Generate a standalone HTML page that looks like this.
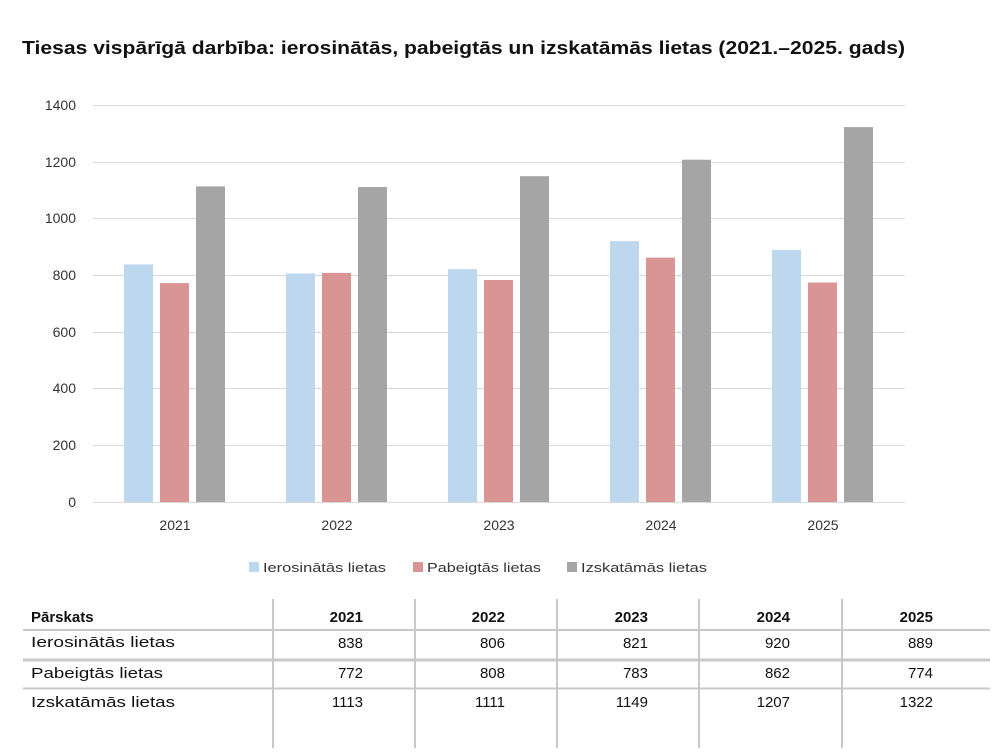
<!DOCTYPE html>
<html><head><meta charset="utf-8"><style>
body{margin:0;background:#fff;width:1000px;height:748px;overflow:hidden;font-family:"Liberation Sans","DejaVu Sans",sans-serif}
</style></head><body>
<svg width="1000" height="748" xmlns="http://www.w3.org/2000/svg" font-family="Liberation Sans, DejaVu Sans, sans-serif">
<text x="22" y="54" font-size="18" font-weight="bold" fill="#111" textLength="883" lengthAdjust="spacingAndGlyphs">Tiesas vispārīgā darbība: ierosinātās, pabeigtās un izskatāmās lietas (2021.–2025. gads)</text>
<g stroke="#d9d9d9" stroke-width="1">
<line x1="93" x2="905" y1="105.5" y2="105.5"/><line x1="93" x2="905" y1="162.5" y2="162.5"/><line x1="93" x2="905" y1="218.5" y2="218.5"/><line x1="93" x2="905" y1="275.5" y2="275.5"/><line x1="93" x2="905" y1="332.5" y2="332.5"/><line x1="93" x2="905" y1="388.5" y2="388.5"/><line x1="93" x2="905" y1="445.5" y2="445.5"/><line x1="93" x2="905" y1="502.5" y2="502.5"/>
</g>
<g font-size="14" fill="#333" text-anchor="end">
<text x="76" y="110">1400</text><text x="76" y="167">1200</text><text x="76" y="223">1000</text><text x="76" y="280">800</text><text x="76" y="337">600</text><text x="76" y="393">400</text><text x="76" y="450">200</text><text x="76" y="507">0</text>
</g>
<g>
<rect x="124" y="264.4" width="29" height="237.6" fill="#bdd7ee"/><rect x="160" y="283.1" width="29" height="218.9" fill="#d99594"/><rect x="196" y="186.4" width="29" height="315.6" fill="#a5a5a5"/>
<rect x="286" y="273.4" width="29" height="228.6" fill="#bdd7ee"/><rect x="322" y="272.9" width="29" height="229.1" fill="#d99594"/><rect x="358" y="187" width="29" height="315" fill="#a5a5a5"/>
<rect x="448" y="269.2" width="29" height="232.8" fill="#bdd7ee"/><rect x="484" y="280" width="29" height="222" fill="#d99594"/><rect x="520" y="176.2" width="29" height="325.8" fill="#a5a5a5"/>
<rect x="610" y="241.1" width="29" height="260.9" fill="#bdd7ee"/><rect x="646" y="257.6" width="29" height="244.4" fill="#d99594"/><rect x="682" y="159.7" width="29" height="342.3" fill="#a5a5a5"/>
<rect x="772" y="249.9" width="29" height="252.1" fill="#bdd7ee"/><rect x="808" y="282.5" width="29" height="219.5" fill="#d99594"/><rect x="844" y="127.1" width="29" height="374.9" fill="#a5a5a5"/>
</g>
<g font-size="14" fill="#333" text-anchor="middle">
<text x="175" y="530">2021</text><text x="337" y="530">2022</text><text x="499" y="530">2023</text><text x="661" y="530">2024</text><text x="823" y="530">2025</text>
</g>
<g font-size="13" fill="#333">
<rect x="249" y="562" width="10" height="10" fill="#bdd7ee"/><text x="263" y="572" textLength="123" lengthAdjust="spacingAndGlyphs">Ierosinātās lietas</text>
<rect x="413" y="562" width="10" height="10" fill="#d99594"/><text x="427" y="572" textLength="114" lengthAdjust="spacingAndGlyphs">Pabeigtās lietas</text>
<rect x="567" y="562" width="10" height="10" fill="#a5a5a5"/><text x="581" y="572" textLength="126" lengthAdjust="spacingAndGlyphs">Izskatāmās lietas</text>
</g>
<g stroke="#c8c8c8">
<line x1="273" x2="273" y1="599" y2="748" stroke-width="2"/><line x1="415" x2="415" y1="599" y2="748" stroke-width="2"/><line x1="557" x2="557" y1="599" y2="748" stroke-width="2"/><line x1="699" x2="699" y1="599" y2="748" stroke-width="2"/><line x1="842" x2="842" y1="599" y2="748" stroke-width="2"/>
<line x1="23" x2="990" y1="630" y2="630" stroke-width="2"/><line x1="23" x2="990" y1="660" y2="660" stroke-width="3"/><line x1="23" x2="990" y1="688.5" y2="688.5" stroke-width="2"/>
</g>
<g font-size="15" fill="#111">
<text x="31" y="622" font-weight="bold">Pārskats</text>
<text x="31" y="647" textLength="144" lengthAdjust="spacingAndGlyphs">Ierosinātās lietas</text>
<text x="31" y="678" textLength="132" lengthAdjust="spacingAndGlyphs">Pabeigtās lietas</text>
<text x="31" y="707" textLength="144" lengthAdjust="spacingAndGlyphs">Izskatāmās lietas</text>
</g>
<g font-size="15" fill="#111" text-anchor="end">
<text font-weight="bold" x="363" y="622">2021</text><text font-weight="bold" x="505" y="622">2022</text><text font-weight="bold" x="648" y="622">2023</text><text font-weight="bold" x="790" y="622">2024</text><text font-weight="bold" x="933" y="622">2025</text>
<text x="363" y="648">838</text><text x="505" y="648">806</text><text x="648" y="648">821</text><text x="790" y="648">920</text><text x="933" y="648">889</text>
<text x="363" y="678">772</text><text x="505" y="678">808</text><text x="648" y="678">783</text><text x="790" y="678">862</text><text x="933" y="678">774</text>
<text x="363" y="707">1113</text><text x="505" y="707">1111</text><text x="648" y="707">1149</text><text x="790" y="707">1207</text><text x="933" y="707">1322</text>
</g>
</svg>
</body></html>
